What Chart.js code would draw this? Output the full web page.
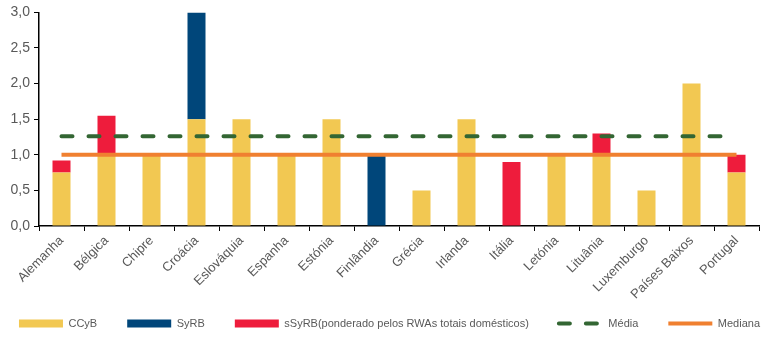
<!DOCTYPE html>
<html>
<head>
<meta charset="utf-8">
<script src="https://cdn.jsdelivr.net/npm/chart.js@4.4.1/dist/chart.umd.min.js"></script>
<style>
  html, body { margin: 0; padding: 0; background: #fff; }
  #wrap { width: 767px; height: 338px; }
</style>
</head>
<body>
<div id="wrap"><canvas id="chart"></canvas></div>
<script>
const paises = ['Alemanha', 'Bélgica', 'Chipre', 'Croácia', 'Eslováquia', 'Espanha', 'Estónia', 'Finlândia',
  'Grécia', 'Irlanda', 'Itália', 'Letónia', 'Lituânia', 'Luxemburgo', 'Países Baixos', 'Portugal'];
const ccyb  = [0.75, 1.0, 1.0, 1.5, 1.5, 1.0, 1.5, 0, 0.5, 1.5, 0, 1.0, 1.0, 0.5, 2.0, 0.75];
const syrb  = [0, 0, 0, 1.5, 0, 0, 0, 1.0, 0, 0, 0, 0, 0, 0, 0, 0];
const ssyrb = [0.17, 0.55, 0, 0, 0, 0, 0, 0, 0, 0, 0.9, 0, 0.3, 0, 0, 0.25];
const media   = 1.26;
const mediana = 1.0;
const yTicks = [0, 0.5, 1.0, 1.5, 2.0, 2.5, 3.0];

const fonte = '"Liberation Sans", Arial, sans-serif';
const cinza = '#595959';

// legenda numa só linha, baixa e com o espaçamento largo do original
const legendaLarga = {
  id: 'legendaLarga',
  afterInit(chart) {
    const lg = chart.legend;
    if (!lg) return;
    const fit = lg.fit;
    lg.fit = function () {
      const mw = this.maxWidth;
      this.maxWidth = mw + 80;
      fit.call(this);
      this.maxWidth = mw;
      this.width = mw;
      this.height = 20;
    };
    const draw = lg.draw;
    lg.draw = function () {
      const l = this.left, r = this.right, t = this.top;
      this.left = l - 20;
      this.right = r + 40;
      this.top = t - 30;
      draw.call(this);
      this.left = l;
      this.right = r;
      this.top = t;
    };
  }
};

const ctx = document.getElementById('chart');
new Chart(ctx, {
  data: {
    labels: paises,
    datasets: [
      { type: 'bar', label: 'CCyB', data: ccyb, backgroundColor: '#F2C852', borderWidth: 0, order: 2, pointStyle: 'rect' },
      { type: 'bar', label: 'SyRB', data: syrb, backgroundColor: '#00467A', borderWidth: 0, order: 2, pointStyle: 'rect' },
      { type: 'bar', label: 'sSyRB(ponderado pelos RWAs totais domésticos)', data: ssyrb, backgroundColor: '#EE1C3C', borderWidth: 0, order: 2, pointStyle: 'rect' },
      { type: 'line', label: 'Média', data: paises.map(() => media), borderColor: '#336633', backgroundColor: '#336633',
        borderWidth: 4, borderDash: [11, 16], borderCapStyle: 'round', pointRadius: 0, order: 0, pointStyle: 'line', stack: 'm' },
      { type: 'line', label: 'Mediana', data: paises.map(() => mediana), borderColor: '#F08030', backgroundColor: '#F08030',
        borderWidth: 4, pointRadius: 0, order: 1, pointStyle: 'line', stack: 'md' }
    ]
  },
  plugins: [legendaLarga],
  options: {
    responsive: true,
    maintainAspectRatio: false,
    animation: false,
    layout: { padding: { top: -2, right: 8, left: 0, bottom: 0 } },
    datasets: { bar: { barPercentage: 0.4, categoryPercentage: 1.0 } },
    plugins: {
      tooltip: { enabled: false },
      legend: {
        position: 'bottom',
        labels: {
          usePointStyle: true,
          pointStyleWidth: 44,
          boxHeight: 8,
          padding: 30,
          color: cinza,
          font: { family: fonte, size: 11 },
          sort: (a, b) => a.datasetIndex - b.datasetIndex,
          generateLabels: (chart) => {
            const items = Chart.defaults.plugins.legend.labels.generateLabels(chart);
            items.forEach(it => {
              const ds = chart.data.datasets[it.datasetIndex];
              if (ds.type === 'line') {
                it.lineWidth = ds.borderWidth;
                it.lineDash = ds.borderDash || [];
                it.lineCap = ds.borderCapStyle || 'butt';
              }
            });
            return items;
          }
        }
      }
    },
    scales: {
      x: {
        stacked: true,
        grid: { display: true, drawOnChartArea: false, color: '#000', tickLength: 5, offset: true },
        border: { color: '#000', width: 1.5 },
        ticks: { color: cinza, font: { family: fonte, size: 13 }, minRotation: 45, maxRotation: 45, padding: 2 },
        afterFit: (s) => { s.height = 92; }
      },
      y: {
        stacked: true,
        min: 0,
        max: 3,
        grid: { display: true, drawOnChartArea: false, color: '#000', tickLength: 5 },
        border: { color: '#000', width: 1.5 },
        afterBuildTicks: (s) => { s.ticks = yTicks.map(v => ({ value: v })); },
        ticks: {
          color: cinza,
          font: { family: fonte, size: 14 },
          padding: 4,
          callback: (v) => v.toFixed(1).replace('.', ',')
        },
        afterFit: (s) => { s.width = 39; }
      }
    }
  }
});
</script>
</body>
</html>
